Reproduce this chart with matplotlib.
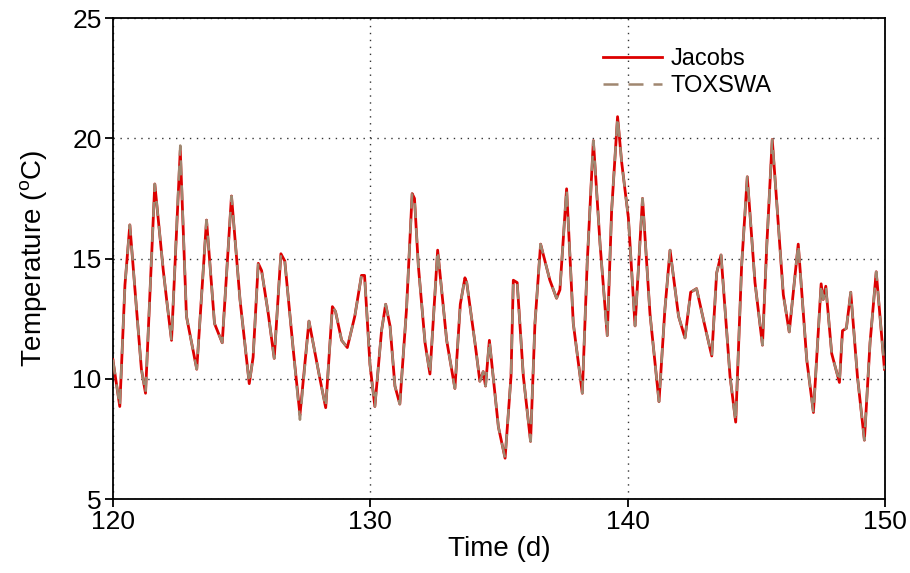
import matplotlib
matplotlib.use('Agg')
import matplotlib.pyplot as plt

plt.rcParams['font.family'] = ['Liberation Sans', 'DejaVu Sans']
plt.rcParams['mathtext.fontset'] = 'custom'
plt.rcParams['mathtext.rm'] = 'Liberation Sans'

# values
time_d = [120.00, 120.27, 120.47, 120.66, 120.92, 121.11, 121.27, 121.63, 121.96, 122.10,
          122.28, 122.62, 122.86, 123.26, 123.64, 123.95, 124.25, 124.61, 124.94, 125.30,
          125.45, 125.65, 125.78, 126.04, 126.27, 126.53, 126.68, 127.01, 127.27, 127.62,
          128.01, 128.27, 128.53, 128.65, 128.89, 129.11, 129.40, 129.66, 129.78, 129.99,
          130.18, 130.44, 130.60, 130.77, 130.96, 131.15, 131.41, 131.63, 131.72, 131.87,
          132.13, 132.32, 132.62, 132.97, 133.29, 133.50, 133.68, 133.75, 134.07, 134.26,
          134.39, 134.48, 134.63, 134.98, 135.24, 135.47, 135.56, 135.71, 135.95, 136.23,
          136.40, 136.62, 136.98, 137.24, 137.37, 137.63, 137.89, 138.24, 138.43, 138.67,
          138.93, 139.21, 139.38, 139.61, 139.77, 140.03, 140.29, 140.58, 140.87, 141.22,
          141.45, 141.65, 141.98, 142.23, 142.45, 142.68, 142.98, 143.27, 143.46, 143.63,
          143.98, 144.20, 144.43, 144.65, 144.95, 145.24, 145.41, 145.62, 146.05, 146.28,
          146.63, 146.96, 147.22, 147.52, 147.60, 147.70, 147.93, 148.23, 148.35, 148.50,
          148.67, 148.93, 149.20, 149.42, 149.66, 149.98]

jacobs_temp = [10.8, 8.85, 13.9, 16.4, 12.9, 10.4, 9.4, 18.1, 14.5, 13.2,
               11.6, 19.5, 12.6, 10.4, 16.6, 12.3, 11.5, 17.6, 13.3, 9.8,
               10.9, 14.8, 14.5, 12.7, 10.85, 15.2, 14.9, 11.2, 8.5, 12.4,
               10.2, 8.8, 13.0, 12.8, 11.6, 11.3, 12.6, 14.3, 14.3, 10.6,
               8.85, 12.0, 13.1, 12.2, 9.7, 8.95, 12.9, 17.7, 17.5, 14.7,
               11.5, 10.2, 15.35, 11.6, 9.6, 13.1, 14.2, 14.0, 11.5, 9.9,
               10.3, 9.7, 11.6, 8.0, 6.7, 10.1, 14.1, 14.0, 10.1, 7.4,
               12.3, 15.6, 14.1, 13.35, 13.7, 17.9, 12.3, 9.4, 14.8, 19.9,
               15.6, 11.8, 17.0, 20.9, 19.0, 16.7, 12.2, 17.5, 12.7, 9.05,
               12.9, 15.35, 12.6, 11.7, 13.6, 13.75, 12.3, 10.95, 14.4, 15.15,
               10.1, 8.2, 14.7, 18.4, 14.0, 11.4, 15.6, 19.95, 13.5, 11.95,
               15.6, 10.8, 8.6, 13.95, 13.3, 13.85, 11.05, 9.85, 12.0, 12.1,
               13.6, 10.1, 7.45, 11.5, 14.45, 10.4]

toxswa_temp = list(jacobs_temp)
toxswa_temp[11] = 19.7
toxswa_temp[28] = 8.3

fig = plt.figure(figsize=(9.1, 5.73), dpi=100)
ax = fig.add_axes([0.124, 0.129, 0.8485, 0.8395])

ax.plot(time_d, jacobs_temp, color='#dd0000', lw=2.0, label='Jacobs', zorder=3)
ax.plot(time_d, toxswa_temp, color='#a08770', lw=1.8, ls=(0, (6, 4)), label='TOXSWA', zorder=4)

ax.set_xlim(120, 150)
ax.set_ylim(5, 25)
ax.set_xticks([120, 130, 140, 150])
ax.set_yticks([5, 10, 15, 20, 25])
ax.grid(True, color='#333333', ls=(0, (1, 4)), lw=1.0)
ax.tick_params(direction='out', length=6, width=1.3, labelsize=19, pad=2)
for sp in ax.spines.values():
    sp.set_linewidth(1.3)

ax.set_xlabel('Time (d)', fontsize=20, labelpad=1)
ax.set_ylabel('Temperature ($^{\\rm o}$C)', fontsize=20, labelpad=16)

ax.legend(loc='upper left', bbox_to_anchor=(0.635, 0.937), frameon=False, fontsize=17,
          handlelength=2.5, handletextpad=0.35, labelspacing=0.2, borderpad=0, borderaxespad=0)

plt.savefig('out.png', dpi=100)
